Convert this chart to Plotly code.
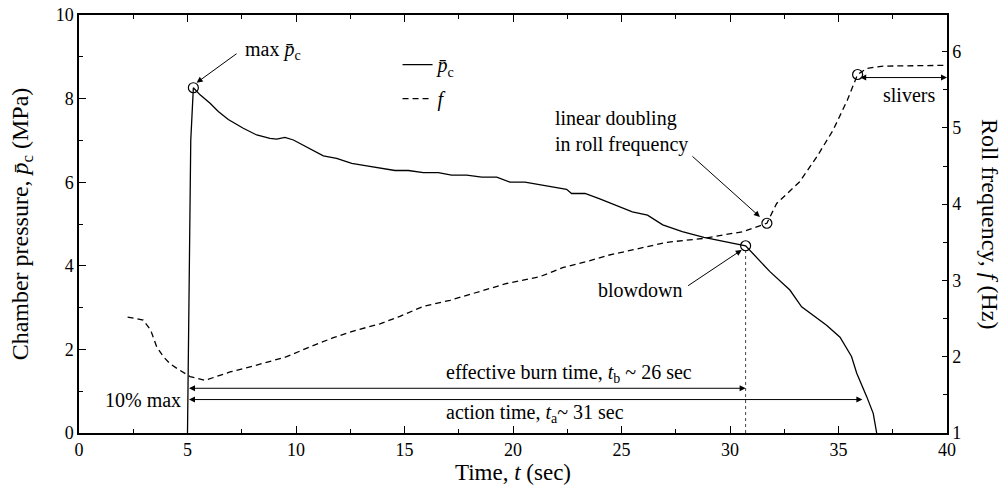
import plotly.graph_objects as go

# ---- data ----
t_p = [5.0, 5.1, 5.15, 5.27, 5.58, 6.04, 6.42, 6.88, 7.57, 8.19, 8.8, 9.11, 9.49, 9.88,
       10.57, 11.26, 11.87, 12.57, 13.26, 13.87, 14.56, 15.18, 15.87, 16.56, 17.17, 17.87,
       18.56, 19.25, 19.86, 20.55, 21.17, 21.86, 22.47, 22.7, 23.32, 24.0, 24.9, 25.5,
       26.2, 26.9, 27.8, 28.8, 30.72, 31.84, 32.76, 33.3, 34.45, 35.07, 35.6, 35.84,
       36.3, 36.6, 36.76]
p_c = [0.0, 5.0, 7.0, 8.26, 8.09, 7.89, 7.69, 7.50, 7.29, 7.13, 7.05, 7.03, 7.07, 7.01,
       6.81, 6.63, 6.57, 6.45, 6.39, 6.33, 6.28, 6.28, 6.23, 6.23, 6.17, 6.17,
       6.12, 6.12, 6.0, 6.0, 5.95, 5.89, 5.83, 5.73, 5.73, 5.6, 5.41, 5.29,
       5.21, 4.98, 4.82, 4.68, 4.48, 3.86, 3.42, 3.02, 2.58, 2.29, 1.83, 1.43,
       0.87, 0.47, 0.0]

t_f = [2.24, 2.96, 3.3, 3.58, 3.89, 4.19, 4.6, 5.12, 5.81, 6.96, 8.19, 9.57, 10.65,
       11.72, 12.8, 13.87, 14.79, 15.87, 17.1, 18.33, 19.71, 21.24, 22.32, 23.55, 24.39,
       25.5, 27.1, 28.75, 30.6, 31.7, 32.15, 33.2, 34.0, 34.75, 35.4, 35.88, 36.3, 37.06, 40.0]
f_roll = [2.52, 2.48, 2.35, 2.13, 2.0, 1.91, 1.83, 1.74, 1.69, 1.80, 1.89, 2.0, 2.13,
          2.25, 2.35, 2.43, 2.53, 2.66, 2.74, 2.84, 2.96, 3.05, 3.17, 3.26, 3.33,
          3.40, 3.50, 3.55, 3.64, 3.75, 4.01, 4.29, 4.62, 4.97, 5.36, 5.70, 5.78, 5.81, 5.82]

# marked points
t_max, p_max = 5.27, 8.26
t_blow, p_blow = 30.72, 4.48
t_dbl, f_dbl = 31.7, 3.75
t_sliv, f_sliv = 35.88, 5.70

# time intervals
t_start = 5.0
t_burn_end = 30.72
t_action_end = 36.1
p_burn_line = 1.07
p_action_line = 0.80

x_ticks = [0, 5, 10, 15, 20, 25, 30, 35, 40]
y_ticks = [0, 2, 4, 6, 8, 10]
y2_ticks = [1, 2, 3, 4, 5, 6]

FONT = "Liberation Serif"
PBAR = "<i>p\u0304</i><sub>c</sub>"

fig = go.Figure()
fig.add_trace(go.Scatter(x=t_p, y=p_c, mode="lines", name=PBAR,
                         line=dict(color="black", width=1.3), legendgroup="a"))
fig.add_trace(go.Scatter(x=t_f, y=f_roll, mode="lines", name="<i>f</i>", yaxis="y2",
                         line=dict(color="black", width=1.3, dash="6px,4px"), legendgroup="b"))
# dotted drop line at end of burn
fig.add_trace(go.Scatter(x=[t_blow, t_blow], y=[0, p_blow], mode="lines", showlegend=False,
                         line=dict(color="#444", width=1, dash="dot")))
# open circles
fig.add_trace(go.Scatter(x=[t_max, t_blow], y=[p_max, p_blow], mode="markers", showlegend=False,
                         marker=dict(symbol="circle-open", size=10, color="black",
                                     line=dict(width=1.2, color="black"))))
fig.add_trace(go.Scatter(x=[t_dbl, t_sliv], y=[f_dbl, f_sliv], mode="markers", showlegend=False,
                         yaxis="y2",
                         marker=dict(symbol="circle-open", size=10, color="black",
                                     line=dict(width=1.2, color="black"))))

AF = dict(family=FONT, size=20, color="black")
ann = []
# max pc
ann.append(dict(x=7.54, y=9.16, xref="x", yref="y", text="max " + PBAR, showarrow=False,
                xanchor="left", yanchor="middle", font=AF))
ann.append(dict(x=5.42, y=8.38, ax=7.33, ay=9.10, xref="x", yref="y", axref="x", ayref="y",
                text="", showarrow=True, arrowhead=2, arrowsize=1.2, arrowwidth=1, arrowcolor="black"))
# linear doubling
ann.append(dict(x=21.83, y=7.21, xref="x", yref="y", text="linear doubling<br>in roll frequency",
                showarrow=False, xanchor="left", yanchor="middle", align="left", font=AF))
ann.append(dict(x=31.38, y=5.17, ax=28.2, ay=6.65, xref="x", yref="y", axref="x", ayref="y",
                text="", showarrow=True, arrowhead=2, arrowsize=1.2, arrowwidth=1, arrowcolor="black"))
# blowdown
ann.append(dict(x=25.85, y=3.42, xref="x", yref="y", text="blowdown", showarrow=False,
                xanchor="center", yanchor="middle", font=AF))
ann.append(dict(x=30.54, y=4.38, ax=28.0, ay=3.50, xref="x", yref="y", axref="x", ayref="y",
                text="", showarrow=True, arrowhead=2, arrowsize=1.2, arrowwidth=1, arrowcolor="black"))
# slivers
ann.append(dict(x=38.25, y=5.43, xref="x", yref="y2", text="slivers", showarrow=False,
                xanchor="center", yanchor="middle", font=AF))
ann.append(dict(x=40.0, y=5.66, ax=t_sliv + 0.05, ay=5.66, xref="x", yref="y2", axref="x", ayref="y2",
                text="", showarrow=True, arrowhead=2, arrowside="end+start", arrowsize=1.2,
                arrowwidth=1, arrowcolor="black"))
# burn time
ann.append(dict(x=22.58, y=1.43, xref="x", yref="y",
                text="effective burn time, <i>t</i><sub>b</sub> ~ 26 sec", showarrow=False,
                xanchor="center", yanchor="middle", font=AF))
ann.append(dict(x=t_burn_end, y=p_burn_line, ax=t_start, ay=p_burn_line, xref="x", yref="y",
                axref="x", ayref="y", text="", showarrow=True, arrowhead=2, arrowside="end+start",
                arrowsize=1.2, arrowwidth=1, arrowcolor="black"))
# action time
ann.append(dict(x=21.0, y=0.47, xref="x", yref="y",
                text="action time, <i>t</i><sub>a</sub>~ 31 sec", showarrow=False,
                xanchor="center", yanchor="middle", font=AF))
ann.append(dict(x=t_action_end, y=p_action_line, ax=t_start, ay=p_action_line, xref="x", yref="y",
                axref="x", ayref="y", text="", showarrow=True, arrowhead=2, arrowside="end+start",
                arrowsize=1.2, arrowwidth=1, arrowcolor="black"))
# 10% max
ann.append(dict(x=4.78, y=0.79, xref="x", yref="y", text="10% max", showarrow=False,
                xanchor="right", yanchor="middle", font=AF))
# right axis title
ann.append(dict(x=1, y=0.5, xref="paper", yref="paper", xshift=43,
                text="Roll frequency, <i>f</i> (Hz)", textangle=90, showarrow=False,
                xanchor="center", yanchor="middle", font=dict(family=FONT, size=24, color="black")))

TF = dict(family=FONT, size=18, color="black")
fig.update_layout(
    width=1006, height=486,
    margin=dict(l=79, r=59, t=15, b=53, autoexpand=False),
    paper_bgcolor="white", plot_bgcolor="white",
    font=dict(family=FONT, color="black"),
    annotations=ann,
    legend=dict(x=0.367, y=0.928, xanchor="left", yanchor="top", bgcolor="rgba(0,0,0,0)",
                font=dict(family=FONT, size=20, color="black"), tracegroupgap=5),
    xaxis=dict(range=[0, 40], tickvals=x_ticks, ticks="inside", ticklen=7, tickwidth=1,
               tickcolor="black", showline=True, linecolor="black", linewidth=1.5,
               mirror="ticks", showgrid=False, zeroline=False, tickfont=TF, automargin=False,
               ticklabeloverflow="allow",
               minor=dict(dtick=2.5, tick0=0, ticks="inside", ticklen=4, tickcolor="black", showgrid=False),
               title=dict(text="Time, <i>t</i> (sec)", font=dict(family=FONT, size=23), standoff=4)),
    yaxis=dict(range=[0, 10], tickvals=y_ticks, ticks="inside", ticklen=7, tickwidth=1,
               tickcolor="black", showline=True, linecolor="black", linewidth=1.5,
               showgrid=False, zeroline=False, tickfont=TF, automargin=False,
               ticklabeloverflow="allow",
               minor=dict(dtick=1, tick0=0, ticks="inside", ticklen=4, tickcolor="black", showgrid=False),
               title=dict(text="Chamber pressure, " + PBAR + " (MPa)",
                          font=dict(family=FONT, size=24), standoff=20)),
    yaxis2=dict(range=[1, 6.48], tickvals=y2_ticks, ticks="inside", ticklen=5, tickwidth=1,
                tickcolor="black", overlaying="y", side="right", showline=True, automargin=False,
                linecolor="black", linewidth=1.5, showgrid=False, zeroline=False, tickfont=TF,
                ticklabeloverflow="allow",
                minor=dict(dtick=0.5, tick0=1, ticks="inside", ticklen=4, tickcolor="black", showgrid=False)),
)

# remove the browser's default page margin so the figure fills the window exactly
fig.write_html("out.html", config={"displayModeBar": False},
               post_script="document.body.style.margin='0';")
